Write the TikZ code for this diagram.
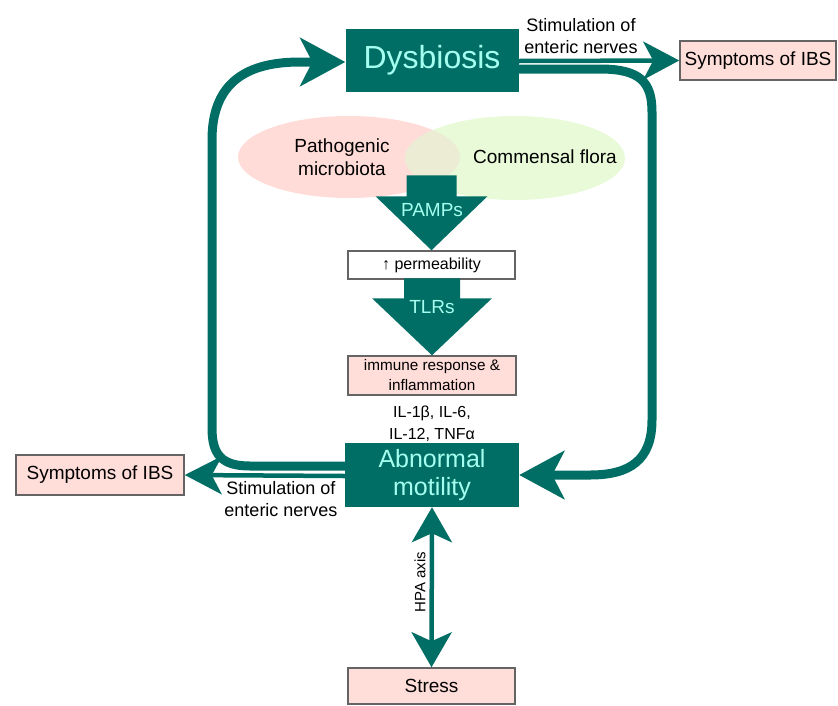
\documentclass[tikz,border=0pt]{standalone}
\usepackage{fontspec}
\setmainfont{Liberation Sans}
\usetikzlibrary{arrows.meta,shapes.geometric}
\definecolor{tealdark}{RGB}{0,110,100}
\definecolor{cyantext}{RGB}{165,255,240}
\definecolor{pinkbox}{RGB}{255,222,218}
\definecolor{boxgray}{RGB}{100,100,100}
\definecolor{pinkell}{RGB}{255,220,215}
\definecolor{greenell}{RGB}{232,250,215}
\definecolor{overlapell}{RGB}{236,236,212}
\newcommand{\fs}[2]{\fontsize{#1}{#2}\selectfont}
\begin{document}
\begin{tikzpicture}[x=1pt,y=-1pt,
  mainbox/.style={fill=tealdark, text=cyantext, align=center, inner sep=0pt},
  infobox/.style={draw=boxgray, line width=1.5pt, fill=pinkbox, align=center, inner sep=0pt},
  loopline/.style={draw=tealdark, line width=9pt},
  bigtip/.style={-{Stealth[length=45pt,width=48pt,inset=12pt]}},
  thinline/.style={draw=tealdark, line width=4.5pt}]
\useasboundingbox (0,0) rectangle (838,705);

% overlapping flora
\node[ellipse, fill=pinkell, minimum width=222pt, minimum height=82pt] (patho) at (349,157) {};
\node[ellipse, fill=greenell, minimum width=220pt, minimum height=84pt] (comm) at (515,158) {};
\begin{scope}
  \clip (349,157) ellipse [x radius=111pt, y radius=41pt];
  \fill[overlapell] (515,158) ellipse [x radius=110pt, y radius=42pt];
\end{scope}
\node[align=center, font=\fs{19}{23}] (pathotxt) at (342,157) {Pathogenic\\microbiota};
\node[font=\fs{19}{23}] (commtxt) at (545,157) {Commensal flora};

% main boxes
\node[mainbox, minimum width=173pt, minimum height=63pt, font=\fs{32}{36}] (dys) at (432,60) {Dysbiosis};
\node[mainbox, minimum width=174pt, minimum height=64pt, font=\fs{25}{28}] (mot) at (432,475) {Abnormal\\motility};

\node[infobox, minimum width=156pt, minimum height=39pt, font=\fs{19}{23}] (ibsR) at (758,60.5) {Symptoms of IBS};
\node[infobox, minimum width=168pt, minimum height=40pt, font=\fs{19}{23}] (ibsL) at (100,475) {Symptoms of IBS};
\node[infobox, fill=white, minimum width=167pt, minimum height=28pt, font=\fs{16}{20}] (perm) at (431.5,265) {↑ permeability};
\node[infobox, minimum width=168pt, minimum height=39pt, font=\fs{15.3}{20}] (imm) at (432,375.5) {immune response \&\\inflammation};
\node[infobox, minimum width=167pt, minimum height=36pt, font=\fs{19}{23}] (stress) at (431.5,686) {Stress};
\node[align=center, font=\fs{16}{22}] (il) at (432,424) {IL-1β, IL-6,\\IL-12, TNFα};

% block arrows
\fill[tealdark, shift={(perm.north)}] (-25,-75) -- (25,-75) -- (25,-54) -- (56,-54)
  -- (0,0) -- (-56,-54) -- (-25,-54) -- cycle;
\node[text=cyantext, font=\fs{19}{23}] (pamps) at (432,210) {PAMPs};
\fill[tealdark, shift={(imm.north)}] (-28,-77) -- (28,-77) -- (28,-57) -- (60,-57)
  -- (0,0) -- (-60,-57) -- (-28,-57) -- cycle;
\node[text=cyantext, font=\fs{19}{23}] (tlrs) at (432,307) {TLRs};

% loops
\draw[loopline, bigtip] (mot.west |- 0,466) -- (250,466)
  .. controls (222,466) and (212,455) .. (212,428) -- (212,140)
  .. controls (212,88) and (240,62) .. (300,62) -- (dys.west |- 0,62);
\draw[loopline, bigtip] (dys.east |- 0,69) -- (600,69)
  .. controls (640,69) and (652,82) .. (652,112) -- (652,420)
  .. controls (652,460) and (630,475) .. (590,475) -- (mot.east |- 0,475);

% nerve stimulation
\draw[thinline, -{Stealth[length=36pt,width=38pt,inset=10pt]}] (dys.east |- 0,61) -- (ibsR.west);
\draw[thinline, -{Stealth[length=37pt,width=38pt,inset=10pt]}] (mot.west |- 0,476) -- (ibsL.east);
\node[align=center, font=\fs{18}{22}] (stimR) at (581,36) {Stimulation of\\enteric nerves};
\node[align=center, font=\fs{18}{22}] (stimL) at (281,499) {Stimulation of\\enteric nerves};

% HPA axis
\draw[thinline, {Stealth[length=35pt,width=40pt,inset=9pt]}-{Stealth[length=35pt,width=40pt,inset=9pt]}]
  (mot.south) -- (stress.north);
\node[rotate=90, font=\fs{15}{18}] (hpa) at (420,582) {HPA axis};
\end{tikzpicture}
\end{document}
